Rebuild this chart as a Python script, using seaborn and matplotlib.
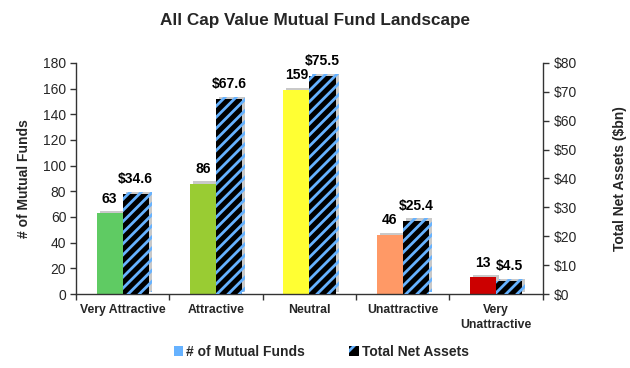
import matplotlib
matplotlib.use("Agg")
import matplotlib.pyplot as plt
import seaborn as sns
import pandas as pd
import numpy as np
from matplotlib import patheffects as pe
from matplotlib.patches import Patch
from matplotlib.ticker import FixedLocator

# ---- data ----
categories = ["Very Attractive", "Attractive", "Neutral", "Unattractive", "Very\nUnattractive"]
fund_counts = [63, 86, 159, 46, 13]
net_assets = [34.6, 67.6, 75.5, 25.4, 4.5]
bar_colors = ["#5FCB63", "#99CC33", "#FFFF33", "#FF9966", "#CC0000"]
left_ticks = [0, 20, 40, 60, 80, 100, 120, 140, 160, 180]
right_ticks = [0, 10, 20, 30, 40, 50, 60, 70, 80]
series_names = ["# of Mutual Funds", "Total Net Assets"]

sns.set_theme(style="white")
plt.rcParams["font.family"] = ["Liberation Sans", "DejaVu Sans"]
plt.rcParams["hatch.linewidth"] = 2.0

df = pd.DataFrame({
    "category": categories * 2,
    "series": [series_names[0]] * len(categories) + [series_names[1]] * len(categories),
    "value": fund_counts + net_assets,
})

fig = plt.figure(figsize=(6.3, 3.68), dpi=100)
ax1 = fig.add_axes([0.1206, 0.201, 0.741, 0.628])
ax2 = ax1.twinx()

blue = "#66B2FF"
shadow = [pe.SimplePatchShadow(offset=(2.2, 1.6), shadow_rgbFace="#888888", alpha=0.45), pe.Normal()]

sns.barplot(data=df[df.series == series_names[0]], x="category", y="value", hue="series",
            hue_order=series_names, order=categories, dodge=True, width=0.56, gap=0,
            errorbar=None, legend=False, ax=ax1, palette=[blue, blue])
sns.barplot(data=df[df.series == series_names[1]], x="category", y="value", hue="series",
            hue_order=series_names, order=categories, dodge=True, width=0.56, gap=0,
            errorbar=None, legend=False, ax=ax2, palette=["black", "black"])

for p in ax1.patches:
    h = p.get_height()
    if not np.isfinite(h):
        continue
    cx = p.get_x() + p.get_width() / 2
    i = int(round(cx))
    p.set_facecolor(bar_colors[i])
    p.set_edgecolor("none")
    p.set_linewidth(0)
    p.set_path_effects(shadow)
    ax1.annotate(f"{fund_counts[i]}", (cx, h), xytext=(0, 5.5), textcoords="offset points",
                 ha="center", va="bottom", fontsize=10, fontweight="bold", color="black")

for p in ax2.patches:
    h = p.get_height()
    if not np.isfinite(h):
        continue
    cx = p.get_x() + p.get_width() / 2
    i = int(round(cx))
    p.set_facecolor("black")
    p.set_edgecolor(blue)
    p.set_hatch("///")
    p.set_linewidth(0)
    p.set_path_effects(shadow)
    ax2.annotate(f"${net_assets[i]:.1f}", (cx, h), xytext=(0, 5.5), textcoords="offset points",
                 ha="center", va="bottom", fontsize=10, fontweight="bold", color="black")

ax1.set_xlim(-0.5, len(categories) - 0.5)
ax1.set_ylim(0, 180)
ax2.set_ylim(0, 80)
ax1.set_yticks(left_ticks)
ax1.set_yticklabels([str(t) for t in left_ticks])
ax2.set_yticks(right_ticks)
ax2.set_yticklabels([f"${t}" for t in right_ticks])

ax1.set_xticks(range(len(categories)))
ax1.set_xticklabels(categories, fontsize=8.8, fontweight="bold", linespacing=1.35)
ax1.xaxis.set_minor_locator(FixedLocator(np.arange(-0.5, len(categories), 1.0)))
ax1.tick_params(axis="x", which="major", length=0, pad=7)
ax1.tick_params(axis="x", which="minor", length=4, width=1, direction="out", color="#333333", bottom=True)
ax1.tick_params(axis="y", length=4, width=1, direction="out", color="#333333", labelsize=10, left=True, pad=3)
ax2.tick_params(axis="y", length=4, width=1, direction="out", color="#333333", labelsize=10, right=True, pad=4)

for ax in (ax1, ax2):
    ax.spines["top"].set_visible(False)
    for s in ("left", "right", "bottom"):
        ax.spines[s].set_color("#333333")
        ax.spines[s].set_linewidth(1)
    ax.grid(False)
ax1.spines["right"].set_visible(False)
ax2.spines["left"].set_visible(False)
ax2.spines["bottom"].set_visible(False)

ax1.set_xlabel("")
ax2.set_xlabel("")
ax1.set_ylabel("# of Mutual Funds", fontsize=10, fontweight="bold", labelpad=9)
ax2.set_ylabel("Total Net Assets ($bn)", fontsize=10, fontweight="bold", labelpad=26)

fig.suptitle("All Cap Value Mutual Fund Landscape", x=0.5, y=0.965, fontsize=12.3, fontweight="bold")

handles = [Patch(facecolor=blue, edgecolor="none", label=series_names[0]),
           Patch(facecolor="black", edgecolor=blue, hatch="//", linewidth=0, label=series_names[1])]
fig.legend(handles=handles, loc="center", bbox_to_anchor=(0.51, 0.043), ncol=2, frameon=False,
           handlelength=0.7, handleheight=0.7, handletextpad=0.2, columnspacing=3.2,
           prop={"weight": "bold", "size": 10})

fig.savefig("out.png", dpi=100)
